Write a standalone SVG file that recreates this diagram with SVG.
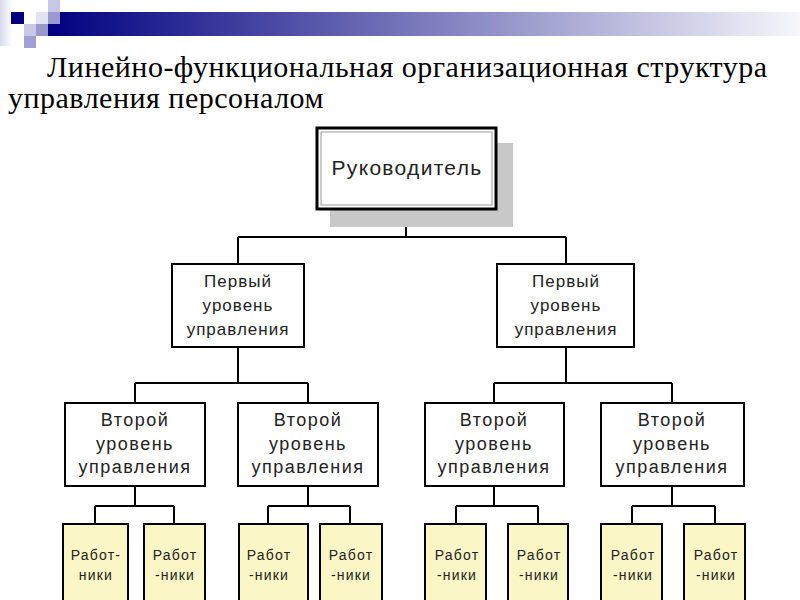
<svg xmlns="http://www.w3.org/2000/svg" width="800" height="600" viewBox="0 0 800 600">
<defs>
<linearGradient id="bar" x1="0" y1="0" x2="1" y2="0">
<stop offset="0" stop-color="#000080"/>
<stop offset="1" stop-color="#f6f6fb"/>
</linearGradient>
<linearGradient id="edge" x1="0" y1="0" x2="1" y2="0">
<stop offset="0" stop-color="#d8d8ec"/>
<stop offset="1" stop-color="#ffffff"/>
</linearGradient>
<style>
.title{font-family:"Liberation Serif","Times New Roman",serif;font-size:30px;letter-spacing:0.5px;fill:#000}
.box{fill:#fff;stroke:#000;stroke-width:2}
.wbox{fill:#fbf6c6;stroke:#000;stroke-width:2}
.t{font-family:"Liberation Sans",Arial,sans-serif;fill:#222;text-anchor:middle}
.l1{font-size:17px;letter-spacing:1px}
.l2{font-size:18px;letter-spacing:1.5px}
.w{font-size:14px;letter-spacing:1.2px}
.conn line{stroke:#000;stroke-width:2}
</style>
</defs>
<rect width="800" height="600" fill="#fff"/>
<g id="header">
<rect x="0" y="0" width="12" height="46" fill="url(#edge)"/>
<rect x="48" y="12" width="752" height="24" fill="url(#bar)"/>
<rect x="48" y="0" width="12" height="12" fill="#c8c8e6"/>
<rect x="11" y="12" width="13" height="12" fill="#000080"/>
<rect x="36" y="12" width="12" height="12" fill="#e2e2f2"/>
<rect x="48" y="12" width="12" height="12" fill="#9a9ad0"/>
<rect x="24" y="24" width="12" height="12" fill="#c8c8e6"/>
<rect x="36" y="24" width="12" height="12" fill="#9898cc"/>
<rect x="24" y="36" width="12" height="12" fill="#a0a0d4"/>
</g>
<g id="title">
<text class="title" x="47" y="77">Линейно-функциональная организационная структура</text>
<text class="title" x="8" y="108">управления персоналом</text>
</g>
<g class="conn" id="connectors">
<line x1="406" y1="210" x2="406" y2="237"/>
<line x1="238" y1="237" x2="566" y2="237"/>
<line x1="238" y1="237" x2="238" y2="264"/>
<line x1="566" y1="237" x2="566" y2="264"/>
<line x1="238" y1="347" x2="238" y2="383"/>
<line x1="135" y1="383" x2="308" y2="383"/>
<line x1="135" y1="383" x2="135" y2="403"/>
<line x1="308" y1="383" x2="308" y2="403"/>
<line x1="566" y1="347" x2="566" y2="383"/>
<line x1="494" y1="383" x2="672" y2="383"/>
<line x1="494" y1="383" x2="494" y2="403"/>
<line x1="672" y1="383" x2="672" y2="403"/>
<line x1="135" y1="486" x2="135" y2="506"/>
<line x1="95" y1="506" x2="174" y2="506"/>
<line x1="95" y1="506" x2="95" y2="524"/>
<line x1="174" y1="506" x2="174" y2="524"/>
<line x1="308" y1="486" x2="308" y2="506"/>
<line x1="268" y1="506" x2="350" y2="506"/>
<line x1="268" y1="506" x2="268" y2="524"/>
<line x1="350" y1="506" x2="350" y2="524"/>
<line x1="494" y1="486" x2="494" y2="506"/>
<line x1="456" y1="506" x2="538" y2="506"/>
<line x1="456" y1="506" x2="456" y2="524"/>
<line x1="538" y1="506" x2="538" y2="524"/>
<line x1="672" y1="486" x2="672" y2="506"/>
<line x1="632" y1="506" x2="715" y2="506"/>
<line x1="632" y1="506" x2="632" y2="524"/>
<line x1="715" y1="506" x2="715" y2="524"/>
</g>
<g id="head">
<rect x="330" y="143" width="183" height="84" fill="#c8c8c8"/>
<rect x="317" y="128" width="179" height="81" fill="#fff" stroke="#000" stroke-width="3"/>
<rect x="321" y="132" width="171" height="73" fill="none" stroke="#999" stroke-width="1"/>
<text class="t" x="407" y="175" font-size="21" letter-spacing="1.3">Руководитель</text>
</g>
<g id="l1a">
<rect class="box" x="172" y="264" width="132" height="83"/>
<text class="t l1" x="238" y="287">Первый</text>
<text class="t l1" x="238" y="311">уровень</text>
<text class="t l1" x="238" y="335">управления</text>
</g>
<g id="l1b">
<rect class="box" x="497" y="264" width="137" height="83"/>
<text class="t l1" x="566" y="287">Первый</text>
<text class="t l1" x="566" y="311">уровень</text>
<text class="t l1" x="566" y="335">управления</text>
</g>
<g id="l2a">
<rect class="box" x="65" y="403" width="140" height="83"/>
<text class="t l2" x="135" y="426">Второй</text>
<text class="t l2" x="135" y="450">уровень</text>
<text class="t l2" x="135" y="473">управления</text>
</g>
<g id="l2b">
<rect class="box" x="238" y="403" width="140" height="83"/>
<text class="t l2" x="308" y="426">Второй</text>
<text class="t l2" x="308" y="450">уровень</text>
<text class="t l2" x="308" y="473">управления</text>
</g>
<g id="l2c">
<rect class="box" x="425" y="403" width="139" height="83"/>
<text class="t l2" x="494" y="426">Второй</text>
<text class="t l2" x="494" y="450">уровень</text>
<text class="t l2" x="494" y="473">управления</text>
</g>
<g id="l2d">
<rect class="box" x="601" y="403" width="143" height="83"/>
<text class="t l2" x="672" y="426">Второй</text>
<text class="t l2" x="672" y="450">уровень</text>
<text class="t l2" x="672" y="473">управления</text>
</g>
<g id="wa">
<rect class="wbox" x="63" y="524" width="65" height="90"/>
<text class="t w" x="96" y="560">Работ-</text>
<text class="t w" x="96" y="580">ники</text>
</g>
<g id="wb">
<rect class="wbox" x="144" y="524" width="61" height="90"/>
<text class="t w" x="175" y="560">Работ</text>
<text class="t w" x="175" y="580">-ники</text>
</g>
<g id="wc">
<rect class="wbox" x="239" y="524" width="69" height="90"/>
<text class="t w" x="269" y="560">Работ</text>
<text class="t w" x="269" y="580">-ники</text>
</g>
<g id="wd">
<rect class="wbox" x="320" y="524" width="62" height="90"/>
<text class="t w" x="351" y="560">Работ</text>
<text class="t w" x="351" y="580">-ники</text>
</g>
<g id="we">
<rect class="wbox" x="425" y="524" width="61" height="90"/>
<text class="t w" x="457" y="560">Работ</text>
<text class="t w" x="457" y="580">-ники</text>
</g>
<g id="wf">
<rect class="wbox" x="508" y="524" width="60" height="90"/>
<text class="t w" x="539" y="560">Работ</text>
<text class="t w" x="539" y="580">-ники</text>
</g>
<g id="wg">
<rect class="wbox" x="601" y="524" width="61" height="90"/>
<text class="t w" x="633" y="560">Работ</text>
<text class="t w" x="633" y="580">-ники</text>
</g>
<g id="wh">
<rect class="wbox" x="684" y="524" width="61" height="90"/>
<text class="t w" x="716" y="560">Работ</text>
<text class="t w" x="716" y="580">-ники</text>
</g>
</svg>
